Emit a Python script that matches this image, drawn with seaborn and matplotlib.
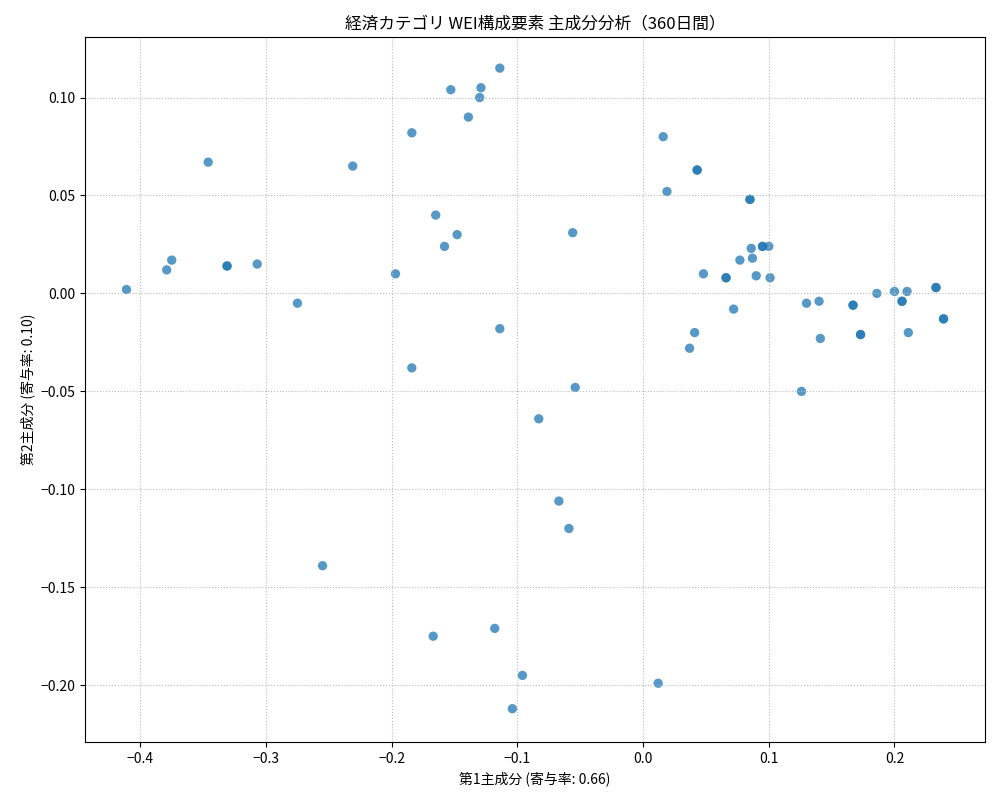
import matplotlib
matplotlib.use("Agg")
import matplotlib.pyplot as plt
import seaborn as sns
import pandas as pd

pc1 = [-0.411, -0.379, -0.375, -0.346, -0.331, -0.331, -0.307, -0.275, -0.255, -0.231,
       -0.197, -0.184, -0.184, -0.165, -0.167, -0.158, -0.153, -0.148, -0.139, -0.130,
       -0.129, -0.114, -0.114, -0.118, -0.096, -0.104, -0.083, -0.067, -0.059, -0.056,
       -0.054, 0.012, 0.016, 0.019, 0.043, 0.043, 0.037, 0.041, 0.048, 0.066,
       0.066, 0.072, 0.077, 0.085, 0.085, 0.086, 0.087, 0.090, 0.095, 0.095,
       0.100, 0.101, 0.126, 0.130, 0.140, 0.141, 0.167, 0.167, 0.173, 0.173,
       0.186, 0.200, 0.206, 0.206, 0.210, 0.211, 0.233, 0.233, 0.239, 0.239]
pc2 = [0.002, 0.012, 0.017, 0.067, 0.014, 0.014, 0.015, -0.005, -0.139, 0.065,
       0.010, 0.082, -0.038, 0.040, -0.175, 0.024, 0.104, 0.030, 0.090, 0.100,
       0.105, 0.115, -0.018, -0.171, -0.195, -0.212, -0.064, -0.106, -0.120, 0.031,
       -0.048, -0.199, 0.080, 0.052, 0.063, 0.063, -0.028, -0.020, 0.010, 0.008,
       0.008, -0.008, 0.017, 0.048, 0.048, 0.023, 0.018, 0.009, 0.024, 0.024,
       0.024, 0.008, -0.050, -0.005, -0.004, -0.023, -0.006, -0.006, -0.021, -0.021,
       0.000, 0.001, -0.004, -0.004, 0.001, -0.020, 0.003, 0.003, -0.013, -0.013]

df = pd.DataFrame({"pc1": pc1, "pc2": pc2})

plt.rcParams['font.family'] = ['Noto Sans CJK JP', 'DejaVu Sans']
fig, ax = plt.subplots(figsize=(10, 8), dpi=100)
sns.scatterplot(data=df, x="pc1", y="pc2", ax=ax, color="#1f77b4", alpha=0.75, s=45, edgecolor="none")
ax.grid(True, linestyle=":", color="#bbbbbb")
ax.set_title("経済カテゴリ WEI構成要素 主成分分析（360日間）")
ax.set_xlabel("第1主成分 (寄与率: 0.66)")
ax.set_ylabel("第2主成分 (寄与率: 0.10)")
ax.set_xlim(-0.444, 0.272)
ax.set_ylim(-0.229, 0.131)
fig.subplots_adjust(left=0.085, right=0.985, top=0.954, bottom=0.0725)
fig.savefig("out.png")
